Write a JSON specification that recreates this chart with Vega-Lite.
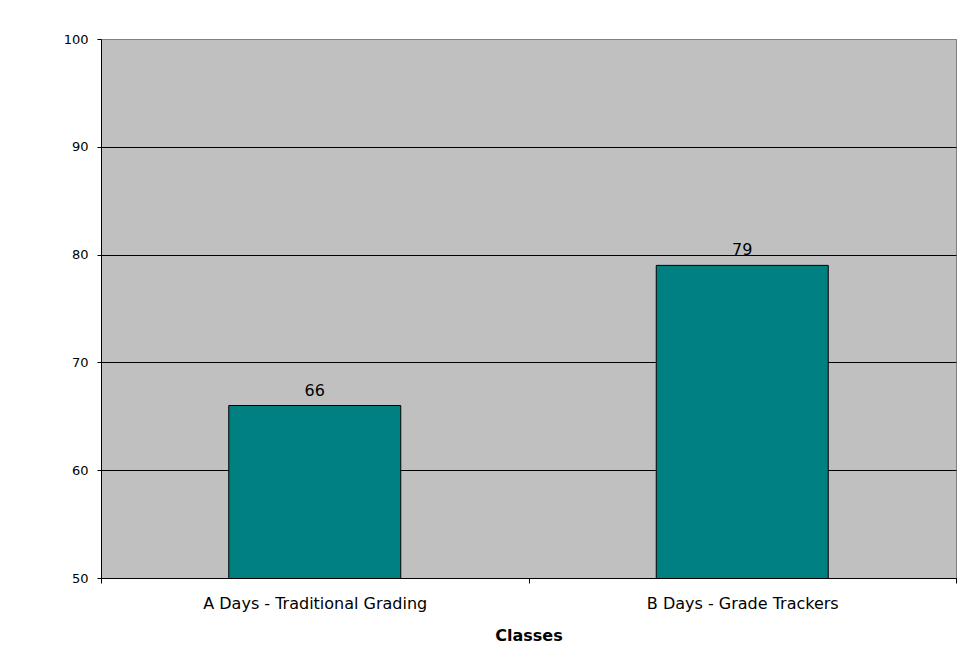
{
  "$schema": "https://vega.github.io/schema/vega-lite/v6.json",
  "width": 855,
  "height": 539,
  "autosize": {"type": "none"},
  "padding": {"left": 101, "top": 39, "right": 8, "bottom": 84},
  "background": "white",
  "config": {
    "font": "DejaVu Sans",
    "view": {"fill": "#C0C0C0", "stroke": "#808080", "strokeWidth": 1}
  },
  "data": {
    "values": [
      {"class": "A Days - Traditional Grading", "score": 66},
      {"class": "B Days - Grade Trackers", "score": 79}
    ]
  },
  "encoding": {
    "x": {
      "field": "class",
      "type": "nominal",
      "sort": null,
      "scale": {"paddingInner": 0, "paddingOuter": 0},
      "axis": {
        "title": "Classes",
        "titleFont": "DejaVu Sans",
        "titleFontSize": 16,
        "titleFontWeight": "bold",
        "titleColor": "black",
        "titlePadding": 16,
        "labelAngle": 0,
        "labelFontSize": 16,
        "labelLimit": 400,
        "labelColor": "black",
        "labelPadding": 12,
        "tickBand": "extent",
        "tickColor": "black",
        "tickSize": 5,
        "domainColor": "black",
        "domainWidth": 1,
        "zindex": 1
      }
    },
    "y": {
      "field": "score",
      "type": "quantitative",
      "scale": {"domain": [50, 100], "zero": false, "nice": false},
      "axis": {
        "title": null,
        "values": [50, 60, 70, 80, 90, 100],
        "labelFontSize": 13,
        "labelColor": "black",
        "labelPadding": 9,
        "tickColor": "black",
        "tickSize": 4,
        "domainColor": "black",
        "grid": true,
        "gridColor": {"condition": {"test": "datum.value === 100", "value": "#808080"}, "value": "black"},
        "gridOpacity": 1,
        "gridWidth": 1
      }
    }
  },
  "layer": [
    {
      "mark": {"type": "bar", "size": 172, "clip": true, "fill": "#008080", "stroke": "black", "strokeWidth": 1}
    },
    {
      "mark": {"type": "text", "baseline": "alphabetic", "dy": -10, "fontSize": 16, "color": "black"},
      "encoding": {"text": {"field": "score", "type": "quantitative"}}
    }
  ]
}
